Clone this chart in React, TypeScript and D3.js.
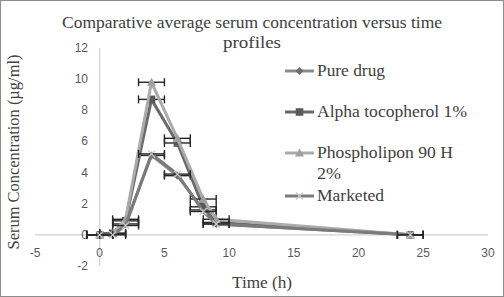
import React from "react";
import * as d3 from "d3";

const times = [0, 1, 2, 4, 6, 8, 9, 24];
const pureDrug = [0, 0.05, 0.7, 5.1, 3.8, 1.6, 0.7, 0];
const alphaToco = [0, 0.1, 0.9, 8.7, 5.9, 1.8, 0.8, 0];
const phospholipon = [0, 0.1, 1.0, 9.8, 6.2, 2.3, 1.0, 0];
const marketed = [0, 0.0, 0.6, 5.2, 3.9, 1.5, 0.7, 0];
const xErr = 1;

const xTicks = [-5, 0, 5, 10, 15, 20, 25, 30];
const yTicks = [-2, 0, 2, 4, 6, 8, 10, 12];

const seriesNames = ["Pure drug", "Alpha tocopherol 1%", "Phospholipon 90 H 2%", "Marketed"];

type S = { name: string; values: number[]; line: string; marker: string; shape: string; legendY: number; labelLines: string[]; widths: number[] };

const series: S[] = [
  { name: seriesNames[0], values: pureDrug, line: "#8a8a8a", marker: "#6e6e6e", shape: "diamond", legendY: 71, labelLines: ["Pure drug"], widths: [68] },
  { name: seriesNames[1], values: alphaToco, line: "#6a6a6a", marker: "#5a5a5a", shape: "square", legendY: 112, labelLines: ["Alpha tocopherol 1%"], widths: [150] },
  { name: seriesNames[2], values: phospholipon, line: "#ababab", marker: "#a0a0a0", shape: "triangle", legendY: 153, labelLines: ["Phospholipon 90 H", "2%"], widths: [136, 24] },
  { name: seriesNames[3], values: marketed, line: "#7a7a7a", marker: "#c8c8c8", shape: "cross", legendY: 196, labelLines: ["Marketed"], widths: [67] },
];

function Marker({ shape, x, y, color }: { shape: string; x: number; y: number; color: string }) {
  if (shape === "diamond") {
    const r = 4;
    return <path d={`M${x},${y - r}L${x + r},${y}L${x},${y + r}L${x - r},${y}Z`} fill={color} />;
  }
  if (shape === "square") {
    const r = 3.8;
    return <rect x={x - r} y={y - r} width={2 * r} height={2 * r} fill={color} />;
  }
  if (shape === "triangle") {
    const r = 4.5;
    return <path d={`M${x},${y - r}L${x + r},${y + r * 0.8}L${x - r},${y + r * 0.8}Z`} fill={color} />;
  }
  const r = 3.5;
  return (
    <path d={`M${x - r},${y - r}L${x + r},${y + r}M${x - r},${y + r}L${x + r},${y - r}`} stroke={color} strokeWidth={1.3} fill="none" />
  );
}

export default function App() {
  const W = 504, H = 297;
  const x = d3.scaleLinear().domain([-5, 30]).range([35, 488]);
  const y = d3.scaleLinear().domain([-2, 12]).range([266, 48]);
  const line = d3.line<[number, number]>().x(d => x(d[0])).y(d => y(d[1]));
  const serif = { fontFamily: "'Liberation Serif', 'DejaVu Serif', serif" };
  const sans = { fontFamily: "'Liberation Sans', Arial, sans-serif" };

  return (
    <svg width={W} height={H} style={{ position: "absolute", left: 0, top: 0 }}>
      <rect x={0.5} y={0.5} width={W - 1} height={H - 1} fill="#fff" stroke="#8c8c8c" />
      <text x={252} y={28} textAnchor="middle" style={serif} fontSize={16} fill="#404040" textLength={380} lengthAdjust="spacingAndGlyphs">
        Comparative average serum concentration versus time
      </text>
      <text x={252} y={48} textAnchor="middle" style={serif} fontSize={16} fill="#404040" textLength={58} lengthAdjust="spacingAndGlyphs">
        profiles
      </text>
      {/* axes */}
      <line x1={x(0)} x2={x(0)} y1={y(12)} y2={y(-2)} stroke="#d0d0d0" strokeWidth={1.2} />
      <line x1={x(-5)} x2={x(30)} y1={y(0)} y2={y(0)} stroke="#d0d0d0" strokeWidth={1.2} />
      {yTicks.map(t => (
        <text key={"y" + t} x={88} y={y(t) + 4} textAnchor="end" style={sans} fontSize={12} fill="#595959">
          {t}
        </text>
      ))}
      {xTicks.map(t => (
        <text key={"x" + t} x={x(t)} y={y(0) + 22} textAnchor="middle" style={sans} fontSize={12} fill="#595959">
          {t}
        </text>
      ))}
      <text transform={`translate(19,${152}) rotate(-90)`} textAnchor="middle" style={serif} fontSize={16} fill="#404040" textLength={195} lengthAdjust="spacingAndGlyphs">
        Serum Concentration (µg/ml)
      </text>
      <text x={262} y={288} textAnchor="middle" style={serif} fontSize={16} fill="#404040" textLength={60} lengthAdjust="spacingAndGlyphs">
        Time (h)
      </text>
      {/* series */}
      {series.map(s => {
        const pts = times.map((t, i) => [t, s.values[i]] as [number, number]);
        return (
          <g key={s.name}>
            <path d={line(pts) || ""} fill="none" stroke={s.line} strokeWidth={3} strokeLinejoin="round" />
            {pts.map((p, i) => (
              <g key={i} stroke="#262626" strokeWidth={1.4}>
                <line x1={x(p[0] - xErr)} x2={x(p[0] + xErr)} y1={y(p[1])} y2={y(p[1])} />
                <line x1={x(p[0] - xErr)} x2={x(p[0] - xErr)} y1={y(p[1]) - 4} y2={y(p[1]) + 4} />
                <line x1={x(p[0] + xErr)} x2={x(p[0] + xErr)} y1={y(p[1]) - 4} y2={y(p[1]) + 4} />
              </g>
            ))}
            {pts.map((p, i) => (
              <Marker key={"m" + i} shape={s.shape} x={x(p[0])} y={y(p[1])} color={s.marker} />
            ))}
          </g>
        );
      })}
      {/* legend */}
      {series.map(s => (
        <g key={"lg" + s.name}>
          <line x1={285} x2={314} y1={s.legendY} y2={s.legendY} stroke={s.line} strokeWidth={3} />
          <Marker shape={s.shape} x={299.5} y={s.legendY} color={s.marker} />
          {s.labelLines.map((l, i) => (
            <text key={i} x={317} y={s.legendY + 4.5 + i * 21} style={serif} fontSize={16} fill="#404040" textLength={s.widths[i]} lengthAdjust="spacingAndGlyphs">
              {l}
            </text>
          ))}
        </g>
      ))}
    </svg>
  );
}
